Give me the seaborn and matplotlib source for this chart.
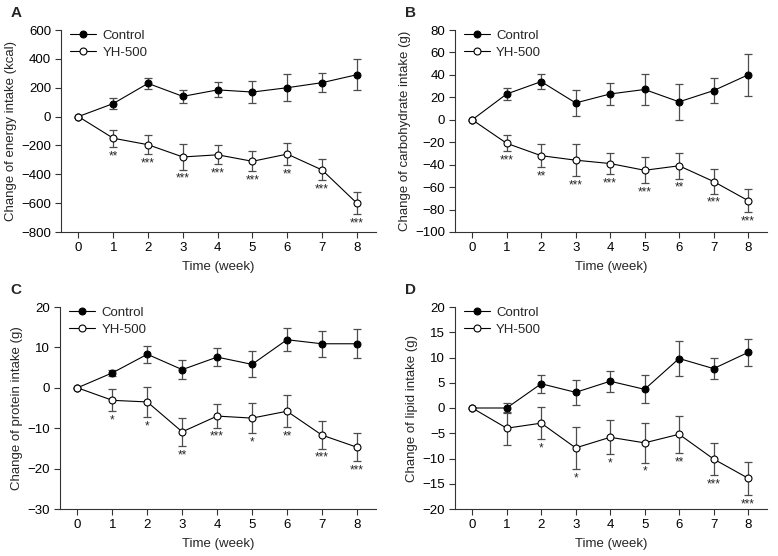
import numpy as np
import pandas as pd
import matplotlib
matplotlib.use("Agg")
import matplotlib.pyplot as plt
import seaborn as sns

weeks = [0, 1, 2, 3, 4, 5, 6, 7, 8]

# Panel A: energy intake (kcal)
energy_ctrl = [0, 90, 230, 140, 185, 170, 200, 235, 290]
energy_ctrl_err = [0, 37, 40, 43, 52, 77, 92, 65, 107]
energy_yh = [0, -150, -195, -280, -265, -310, -260, -370, -600]
energy_yh_err = [0, 60, 67, 88, 65, 70, 78, 73, 78]
energy_stars = ["", "**", "***", "***", "***", "***", "**", "***", "***"]

# Panel B: carbohydrate intake (g)
carb_ctrl = [0, 23, 34, 15, 23, 27, 16, 26, 40]
carb_ctrl_err = [0, 5.5, 6.5, 11.5, 10, 13.5, 16, 11, 18.5]
carb_yh = [0, -21, -32, -36, -39, -45, -41, -55, -72]
carb_yh_err = [0, 7, 10.5, 14, 9.5, 11.5, 11.5, 11, 10.5]
carb_stars = ["", "***", "**", "***", "***", "***", "**", "***", "***"]

# Panel C: protein intake (g)
prot_ctrl = [0, 3.7, 8.3, 4.5, 7.6, 5.8, 11.9, 10.9, 10.9]
prot_ctrl_err = [0, 0.8, 2.1, 2.4, 2.2, 3.2, 2.9, 3.2, 3.6]
prot_yh = [0, -3.1, -3.5, -10.9, -7.0, -7.5, -5.8, -11.7, -14.7]
prot_yh_err = [0, 2.7, 3.8, 3.5, 2.9, 3.7, 4.0, 3.4, 3.5]
prot_stars = ["", "*", "*", "**", "***", "*", "**", "***", "***"]

# Panel D: lipid intake (g)
lip_ctrl = [0, 0, 4.8, 3.1, 5.3, 3.7, 9.8, 7.8, 11.0]
lip_ctrl_err = [0, 0.9, 1.8, 2.45, 2.05, 2.75, 3.55, 2.1, 2.75]
lip_yh = [0, -4.0, -3.0, -7.9, -5.8, -6.9, -5.2, -10.1, -13.9]
lip_yh_err = [0, 3.3, 3.15, 4.15, 3.4, 3.9, 3.7, 3.15, 3.3]
lip_stars = ["", "", "*", "*", "*", "*", "**", "***", "***"]

groups = ["Control", "YH-500"]

panels = [
    ("A", "Change of energy intake (kcal)", energy_ctrl, energy_ctrl_err, energy_yh, energy_yh_err,
     energy_stars, (-800, 600), np.arange(-800, 601, 200)),
    ("B", "Change of carbohydrate intake (g)", carb_ctrl, carb_ctrl_err, carb_yh, carb_yh_err,
     carb_stars, (-100, 80), np.arange(-100, 81, 20)),
    ("C", "Change of protein intake (g)", prot_ctrl, prot_ctrl_err, prot_yh, prot_yh_err,
     prot_stars, (-30, 20), np.arange(-30, 21, 10)),
    ("D", "Change of lipid intake (g)", lip_ctrl, lip_ctrl_err, lip_yh, lip_yh_err,
     lip_stars, (-20, 20), np.arange(-20, 21, 5)),
]

sns.set_theme(style="ticks")
plt.rcParams["font.family"] = ["Liberation Sans", "DejaVu Sans"]
plt.rcParams["axes.edgecolor"] = "#333333"
plt.rcParams["xtick.color"] = "#333333"
plt.rcParams["ytick.color"] = "#333333"
plt.rcParams["xtick.labelcolor"] = "black"
plt.rcParams["ytick.labelcolor"] = "black"

fig = plt.figure(figsize=(7.78, 5.56), dpi=100)
W, H = 778, 556
boxes = [(61, 30, 376, 232), (455, 30, 767, 232), (60, 307, 376, 509), (455, 307, 767, 509)]

for (letter, ylabel, c, ce, y, ye, stars, ylim, yticks), (l, t, r, b) in zip(panels, boxes):
    ax = fig.add_axes([l / W, 1 - b / H, (r - l) / W, (b - t) / H])
    df = pd.DataFrame({
        "week": weeks * 2,
        "value": list(c) + list(y),
        "group": [groups[0]] * len(weeks) + [groups[1]] * len(weeks),
    })
    # error bars
    ax.errorbar(weeks[1:], c[1:], yerr=ce[1:], fmt="none", ecolor="#4d4d4d",
                elinewidth=0.9, capsize=3, capthick=0.9, zorder=1)
    ax.errorbar(weeks[1:], y[1:], yerr=ye[1:], fmt="none", ecolor="#4d4d4d",
                elinewidth=0.9, capsize=3, capthick=0.9, zorder=1)
    sns.lineplot(data=df[df.group == groups[0]], x="week", y="value", ax=ax,
                 color="black", lw=0.8, marker="o", markersize=5,
                 markerfacecolor="black", markeredgecolor="black", label=groups[0], zorder=3)
    sns.lineplot(data=df[df.group == groups[1]], x="week", y="value", ax=ax,
                 color="black", lw=0.8, marker="o", markersize=5,
                 markerfacecolor="white", markeredgecolor="black", markeredgewidth=0.8,
                 label=groups[1], zorder=4)
    rng = ylim[1] - ylim[0]
    for wk, val, err, s in zip(weeks, y, ye, stars):
        if s:
            ax.text(wk, val - err - 0.045 * rng, s, ha="center", va="center", fontsize=8.5)
    ax.set_xlim(-0.5, 8.55)
    ax.set_ylim(*ylim)
    ax.set_yticks(yticks)
    ax.set_xticks(weeks)
    ax.set_xlabel("Time (week)", fontsize=9.5, labelpad=5)
    ax.set_ylabel(ylabel, fontsize=9.5, labelpad=3)
    ax.tick_params(labelsize=9.5, length=4, width=0.8, pad=3)
    for sp in ["left", "bottom"]:
        ax.spines[sp].set_linewidth(0.8)
    sns.despine(ax=ax)
    ax.legend(loc="upper left", frameon=False, fontsize=9.5, handlelength=2.0,
              borderaxespad=0.0, bbox_to_anchor=(0.02, 1.015), labelspacing=0.35,
              handletextpad=0.45, borderpad=0.2)
    fig.text((l - 50) / W, 1 - (t - 17) / H, letter, fontsize=11, fontweight="bold",
             ha="left", va="center")

fig.savefig("out.png", dpi=100)
